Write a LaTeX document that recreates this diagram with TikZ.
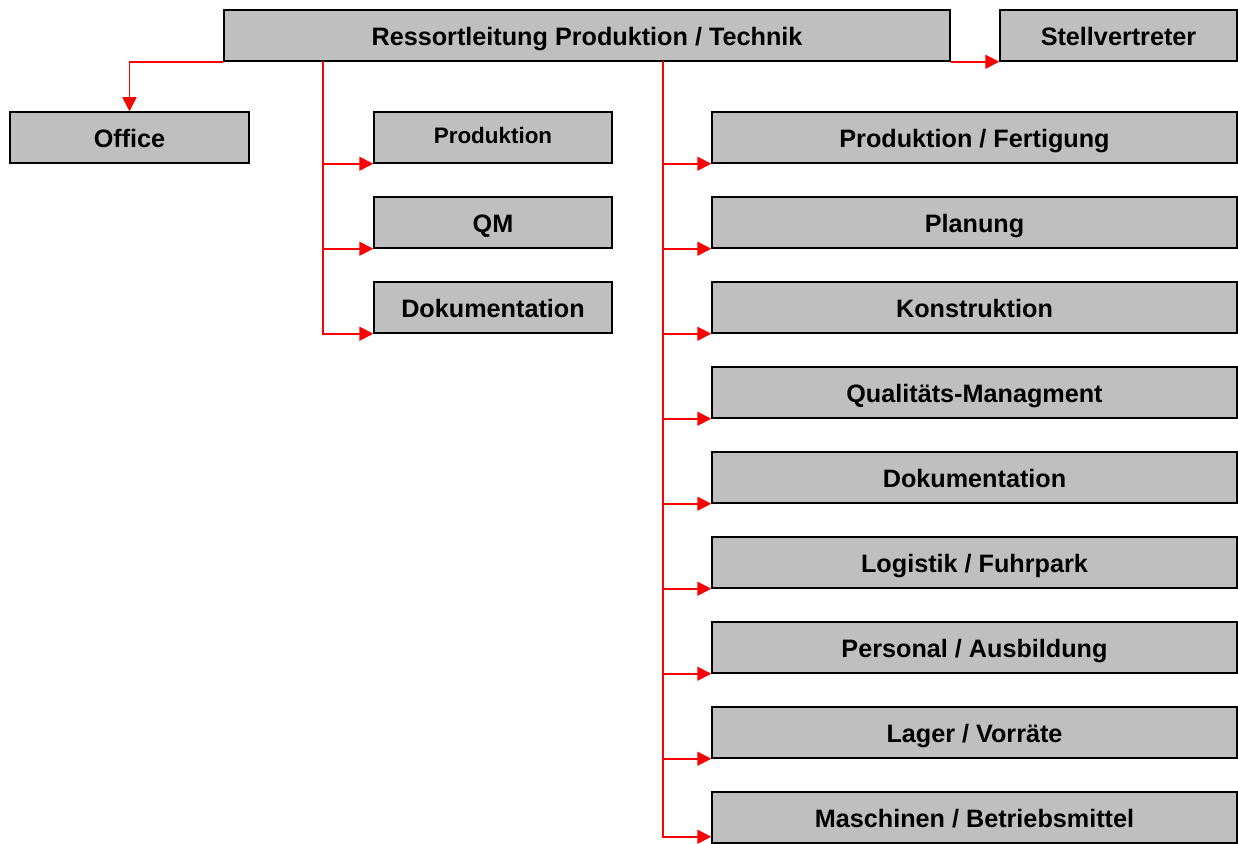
\documentclass[tikz,border=0pt]{standalone}
\usepackage{fontspec}
\setmainfont{Liberation Sans}
\usetikzlibrary{arrows.meta}
\begin{document}
\begin{tikzpicture}[x=0.5pt,y=-0.5pt]
\tikzstyle{every node}=[font=\fontsize{12.6}{15}\selectfont\bfseries]
\tikzstyle{box}=[draw, fill=gray!50, line width=0.75pt, inner sep=0pt, minimum height=25.5pt, text height=9.6pt, text depth=0pt]
\tikzstyle{link}=[red, line width=0.9pt, -{Triangle[length=7pt,width=7pt]}]

\clip (0,0) rectangle (1238,844);

\node[box, minimum width=363pt] (C) at (587, 35.5) {Ressortleitung Produktion / Technik};
\node[box, minimum width=118.5pt] (V) at (1118.5, 35.5) {Stellvertreter};
\node[box, minimum width=119.5pt] (O) at (129.5, 137.5) {Office};

\node[box, minimum width=119pt, font=\fontsize{11.2}{13}\selectfont\bfseries, text height=5.8pt] (P) at (493, 137.5) {Produktion};
\node[box, minimum width=119pt] (Q) at (493, 222.5) {QM};
\node[box, minimum width=119pt] (D) at (493, 307.5) {Dokumentation};

\node[box, minimum width=262.5pt] (R1) at (974.5, 137.5) {Produktion / Fertigung};
\node[box, minimum width=262.5pt] (R2) at (974.5, 222.5) {Planung};
\node[box, minimum width=262.5pt] (R3) at (974.5, 307.5) {Konstruktion};
\node[box, minimum width=262.5pt] (R4) at (974.5, 392.5) {Qualitäts-Managment};
\node[box, minimum width=262.5pt] (R5) at (974.5, 477.5) {Dokumentation};
\node[box, minimum width=262.5pt] (R6) at (974.5, 562.5) {Logistik / Fuhrpark};
\node[box, minimum width=262.5pt] (R7) at (974.5, 647.5) {Personal / Ausbildung};
\node[box, minimum width=262.5pt] (R8) at (974.5, 732.5) {Lager / Vorräte};
\node[box, minimum width=262.5pt] (R9) at (974.5, 817.5) {Maschinen / Betriebsmittel};

\coordinate (L) at (323, 61);
\coordinate (R) at (663, 61);

\draw[link] (C.south west) -| (O.north);
\draw[link] (C.south east) -- (V.south west);

\draw[link] (L) |- (P.south west);
\draw[link] (L) |- (Q.south west);
\draw[link] (L) |- (D.south west);

\draw[link] (R) |- (R1.south west);
\draw[link] (R) |- (R2.south west);
\draw[link] (R) |- (R3.south west);
\draw[link] (R) |- (R4.south west);
\draw[link] (R) |- (R5.south west);
\draw[link] (R) |- (R6.south west);
\draw[link] (R) |- (R7.south west);
\draw[link] (R) |- (R8.south west);
\draw[link] (R) |- ([yshift=3.5pt]R9.south west);

\end{tikzpicture}
\end{document}
